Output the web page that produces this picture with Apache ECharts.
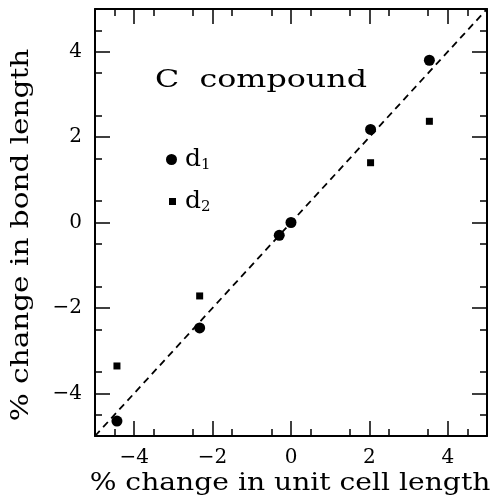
<!DOCTYPE html>
<html>
<head>
<meta charset="utf-8">
<script src="https://cdn.jsdelivr.net/npm/echarts@6/dist/echarts.min.js"></script>
<style>
  html, body { margin: 0; padding: 0; background: #fff; }
  #chart { width: 494px; height: 500px; }
</style>
</head>
<body>
<div id="chart"></div>
<script>
// d1 and d2 values (% change in unit cell, % change in bond)
const d1Points = [[-4.44, -4.65], [-2.33, -2.47], [-0.30, -0.30], [0, 0], [2.03, 2.18], [3.53, 3.80]]
const d2Points = [[-4.44, -3.36], [-2.33, -1.72], [2.03, 1.40], [3.53, 2.37]]
const refLine = [[-5, -5], [5, 5]]
const xTicks = [-4, -2, 0, 2, 4]
const yTicks = [-4, -2, 0, 2, 4]

const FONT = 'DejaVu Serif'
const minus = v => String(v).replace('-', '\u2212')

const chart = echarts.init(document.getElementById('chart'))

// min -5 with interval 2 puts the scale ticks on odd values; they are hidden,
// the minor ticks give every 0.5 and the long ticks come from customValues
const frame = (pos, ticks, showLabels) => ({
  type: 'value',
  position: pos,
  min: -5,
  max: 5,
  interval: 2,
  splitLine: { show: false },
  axisLine: { show: true, onZero: false, lineStyle: { color: '#000', width: 2 } },
  axisTick: { show: true, inside: true, length: 15, customValues: ticks, lineStyle: { color: '#000', width: 1.5 } },
  minorTick: { show: true, splitNumber: 4, length: 7, lineStyle: { color: '#000', width: 1.5 } },
  minorSplitLine: { show: false },
  axisLabel: showLabels
    ? { show: true, customValues: ticks, fontFamily: FONT, fontSize: 20, color: '#000', formatter: minus }
    : { show: false }
})

const xBottom = frame('bottom', xTicks, true)
xBottom.axisLabel.margin = 12
const yLeft = frame('left', yTicks, true)
yLeft.axisLabel.margin = 13

const textStyle = (text, size) => ({ text, fontFamily: FONT, fontSize: size, fill: '#000', align: 'center', verticalAlign: 'middle' })

chart.setOption({
  animation: false,
  backgroundColor: '#fff',
  grid: { left: 95, right: 7, top: 9, bottom: 64 },
  legend: [
    {
      data: [{ name: 'd1', icon: 'circle' }],
      left: 161, top: 142,
      itemWidth: 11, itemHeight: 11,
      formatter: () => '{d|d}{s|1}',
      textStyle: {
        rich: {
          d: { fontFamily: FONT, fontSize: 25, color: '#000', padding: [0, 0, 0, 3] },
          s: { fontFamily: FONT, fontSize: 15, color: '#000', verticalAlign: 'bottom', padding: [12, 0, 0, 0] }
        }
      }
    },
    {
      data: [{ name: 'd2', icon: 'rect' }],
      left: 164, top: 184,
      itemWidth: 7, itemHeight: 7,
      formatter: () => '{d|d}{s|2}',
      textStyle: {
        rich: {
          d: { fontFamily: FONT, fontSize: 25, color: '#000', padding: [0, 0, 0, 4] },
          s: { fontFamily: FONT, fontSize: 15, color: '#000', verticalAlign: 'bottom', padding: [12, 0, 0, 0] }
        }
      }
    }
  ],
  graphic: [
    { type: 'text', x: 261, y: 80, scaleX: 1.27, style: textStyle('C  compound', 25) },
    { type: 'text', x: 290, y: 483, scaleX: 1.127, style: textStyle('% change in unit cell length', 25) },
    { type: 'text', x: 21, y: 235, rotation: Math.PI / 2, scaleX: 1.18, style: textStyle('% change in bond length', 25) }
  ],
  xAxis: [xBottom, frame('top', xTicks, false)],
  yAxis: [yLeft, frame('right', yTicks, false)],
  series: [
    {
      name: 'y = x',
      type: 'line',
      data: refLine,
      symbol: 'none',
      silent: true,
      lineStyle: { color: '#000', width: 1.8, type: [7, 5] },
      z: 1
    },
    {
      name: 'd1',
      type: 'scatter',
      data: d1Points,
      symbol: 'circle',
      symbolSize: 11,
      itemStyle: { color: '#000', opacity: 1 },
      z: 3
    },
    {
      name: 'd2',
      type: 'scatter',
      data: d2Points,
      symbol: 'rect',
      symbolSize: 7,
      itemStyle: { color: '#000', opacity: 1 },
      z: 3
    }
  ]
})
</script>
</body>
</html>
